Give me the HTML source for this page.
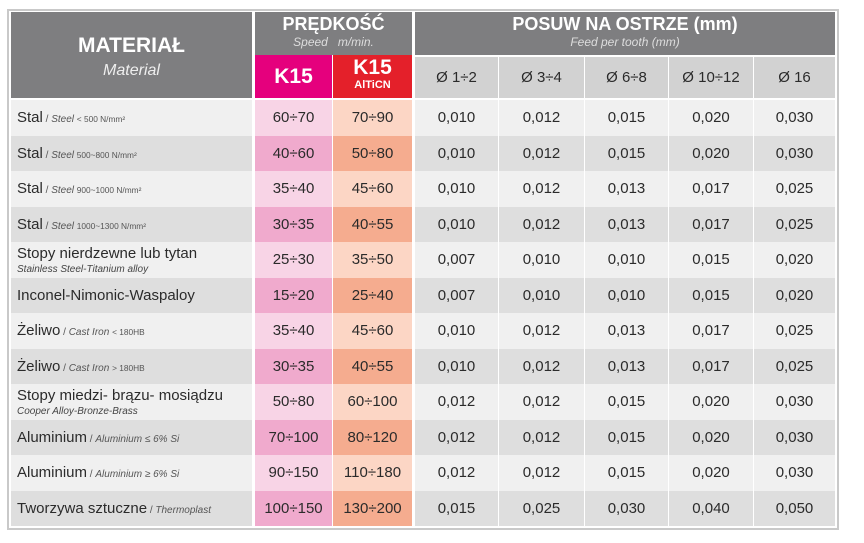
<!DOCTYPE html>
<html><head><meta charset="utf-8">
<style>
body{margin:0;width:864px;height:543px;background:#fff;position:relative;overflow:hidden;font-family:"Liberation Sans",sans-serif;}
.a{position:absolute;box-sizing:border-box;}
.c{display:flex;align-items:center;justify-content:center;color:#2b2b2b;font-size:15px;}
.hd{background:#7e7e80;color:#fff;}
.m{display:flex;flex-direction:column;justify-content:center;padding-left:6px;color:#2b2b2b;font-size:15px;}
.m i{font-size:10px;color:#555;}
.sub{font-size:10px;color:#444;font-style:italic;margin-top:2px;}
</style></head><body>
<div class="a" style="left:7px;top:9px;width:832px;height:521px;border:2px solid #c9c9c9;"></div>
<div class="a hd" style="left:11px;top:12px;width:241px;height:86px;text-align:center;">
 <div style="font-size:21px;font-weight:bold;margin-top:22px;">MATERIAŁ</div>
 <div style="font-size:16px;font-style:italic;margin-top:4px;color:#eee;">Material</div>
</div>
<div class="a hd" style="left:255px;top:12px;width:157px;height:43px;text-align:center;">
 <div style="font-size:18px;font-weight:bold;margin-top:2px;">PRĘDKOŚĆ</div>
 <div style="font-size:12px;font-style:italic;color:#ddd;">Speed&nbsp;&nbsp; m/min.</div>
</div>
<div class="a c" style="left:255px;top:55px;width:77px;height:43px;background:#e5007d;color:#fff;font-size:21px;font-weight:bold;">K15</div>
<div class="a" style="left:333px;top:55px;width:79px;height:43px;background:#e4202a;color:#fff;text-align:center;font-weight:bold;">
 <div style="font-size:21px;line-height:22px;margin-top:2px;">K15</div>
 <div style="font-size:11px;">AlTiCN</div>
</div>
<div class="a hd" style="left:415px;top:12px;width:420px;height:43px;text-align:center;">
 <div style="font-size:18px;font-weight:bold;margin-top:2px;">POSUW NA OSTRZE (mm)</div>
 <div style="font-size:12px;font-style:italic;color:#ddd;">Feed per tooth (mm)</div>
</div>
<div id="t"></div>
<script>
const diam=["Ø 1÷2","Ø 3÷4","Ø 6÷8","Ø 10÷12","Ø 16"];
const matMain=["Stal","Stal","Stal","Stal","Stopy nierdzewne lub tytan","Inconel-Nimonic-Waspaloy","Żeliwo","Żeliwo","Stopy miedzi- brązu- mosiądzu","Aluminium","Aluminium","Tworzywa sztuczne"];
const matSub=[" / <i>Steel</i> <small>&lt; 500 N/mm²</small>"," / <i>Steel</i> <small>500~800 N/mm²</small>"," / <i>Steel</i> <small>900~1000 N/mm²</small>"," / <i>Steel</i> <small>1000~1300 N/mm²</small>","#Stainless Steel-Titanium alloy",""," / <i>Cast Iron</i> <small>&lt; 180HB</small>"," / <i>Cast Iron</i> <small>&gt; 180HB</small>","#Cooper Alloy-Bronze-Brass"," / <i>Aluminium ≤ 6% Si</i>"," / <i>Aluminium ≥ 6% Si</i>"," / <i>Thermoplast</i>"];
const k15=["60÷70","40÷60","35÷40","30÷35","25÷30","15÷20","35÷40","30÷35","50÷80","70÷100","90÷150","100÷150"];
const k15a=["70÷90","50÷80","45÷60","40÷55","35÷50","25÷40","45÷60","40÷55","60÷100","80÷120","110÷180","130÷200"];
const feed=[["0,010","0,012","0,015","0,020","0,030"],["0,010","0,012","0,015","0,020","0,030"],["0,010","0,012","0,013","0,017","0,025"],["0,010","0,012","0,013","0,017","0,025"],["0,007","0,010","0,010","0,015","0,020"],["0,007","0,010","0,010","0,015","0,020"],["0,010","0,012","0,013","0,017","0,025"],["0,010","0,012","0,013","0,017","0,025"],["0,012","0,012","0,015","0,020","0,030"],["0,012","0,012","0,015","0,020","0,030"],["0,012","0,012","0,015","0,020","0,030"],["0,015","0,025","0,030","0,040","0,050"]];
const fx=[415,498,584,668,753,835];
const t=document.getElementById('t');
function box(x,y,w,h,bg,html,cls){const d=document.createElement('div');d.className='a '+cls;d.style.cssText=`left:${x}px;top:${y}px;width:${w}px;height:${h}px;background:${bg};`;d.innerHTML=html;t.appendChild(d);return d;}
diam.forEach((s,i)=>{const d=box(fx[i]+(i?1:0),57,fx[i+1]-fx[i]-(i?1:0),41,'#d2d2d2',s,'c');


d.style.fontSize='15px';});
const y0=100,rh=35.5;
matMain.forEach((m,r)=>{const y=y0+r*rh,dk=r%2==1;
 const s=matSub[r];let html;
 if(s.startsWith('#'))html=`<div>${m}</div><div class="sub">${s.slice(1)}</div>`;else html=`<div>${m}<span style="font-size:10px;color:#555">${s}</span></div>`;
 const a=box(11,y,241,rh,dk?'#dedede':'#f0f0f0',html,'m');
 
 
 const b=box(255,y,77,rh,dk?'#f0aacd':'#f8d4e6',k15[r],'c');
 
 
 const c=box(333,y,79,rh,dk?'#f5ac8f':'#fcd6c5',k15a[r],'c');
 
 
 feed[r].forEach((v,i)=>{const e=box(fx[i]+(i?1:0),y,fx[i+1]-fx[i]-(i?1:0),rh,dk?'#dedede':'#f0f0f0',v,'c');
 
 });
});
</script>
</body></html>
